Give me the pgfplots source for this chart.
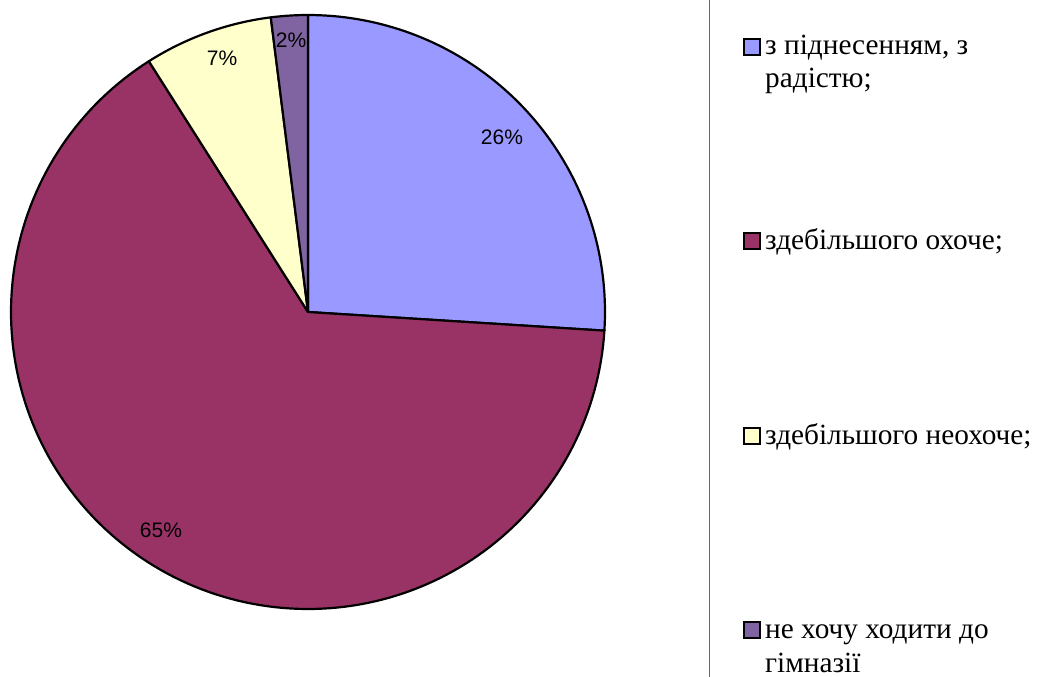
\documentclass[border=0pt]{standalone}
\usepackage{pgfplots}
\pgfplotsset{compat=1.18}
\usepackage{fontspec}
\setmainfont{Liberation Serif}
\newfontfamily\arialf{Liberation Sans}
\definecolor{cA}{HTML}{9999FF}
\definecolor{cB}{HTML}{993366}
\definecolor{cC}{HTML}{FFFFCC}
\definecolor{cD}{HTML}{8064A2}
% pie values (percent)
\def\vA{26}\def\vB{65}\def\vC{7}\def\vD{2}
\pgfmathsetmacro\aA{3.6*\vA}
\pgfmathsetmacro\aB{\aA+3.6*\vB}
\pgfmathsetmacro\aC{\aB+3.6*\vC}
\pgfmathsetmacro\aD{\aC+3.6*\vD}
\begin{document}
\begin{tikzpicture}
\begin{axis}[
  at={(0,0)}, anchor=south west,
  scale only axis, width=1041pt, height=677pt,
  xmin=0, xmax=1041, ymin=0, ymax=677, y dir=reverse,
  hide axis, clip=false,
]
\addplot[fill=cA, draw=black, line width=2.2pt, line join=round, domain=0:\aA, samples=80, variable=\t]
  ({308+297*sin(\t)},{312-297*cos(\t)}) -- (axis cs:308,312) -- cycle;
\addplot[fill=cB, draw=black, line width=2.2pt, line join=round, domain=\aA:\aB, samples=160, variable=\t]
  ({308+297*sin(\t)},{312-297*cos(\t)}) -- (axis cs:308,312) -- cycle;
\addplot[fill=cC, draw=black, line width=2.2pt, line join=round, domain=\aB:\aC, samples=30, variable=\t]
  ({308+297*sin(\t)},{312-297*cos(\t)}) -- (axis cs:308,312) -- cycle;
\addplot[fill=cD, draw=black, line width=2.2pt, line join=round, domain=\aC:\aD, samples=20, variable=\t]
  ({308+297*sin(\t)},{312-297*cos(\t)}) -- (axis cs:308,312) -- cycle;
% percent labels
\node[font=\arialf\fontsize{21}{25}\selectfont] at (axis cs:502,137) {26\%};
\node[font=\arialf\fontsize{21}{25}\selectfont] at (axis cs:161,530) {65\%};
\node[font=\arialf\fontsize{21}{25}\selectfont] at (axis cs:222,58) {7\%};
\node[font=\arialf\fontsize{21}{25}\selectfont] at (axis cs:291,40) {2\%};
% legend frame edge
\draw[black!60, line width=1.4pt] (axis cs:709.5,0) -- (axis cs:709.5,677);
% legend entries
\draw[black, line width=2.2pt, fill=cA] (axis cs:744,39) rectangle (axis cs:760,55);
\draw[black, line width=2.2pt, fill=cB] (axis cs:744,233) rectangle (axis cs:760,249);
\draw[black, line width=2.2pt, fill=cC] (axis cs:744,428) rectangle (axis cs:760,444);
\draw[black, line width=2.2pt, fill=cD] (axis cs:744,622) rectangle (axis cs:760,638);
\tikzset{lg/.style={anchor=base west, inner sep=0pt, font=\fontsize{29.3}{33}\selectfont}}
\node[lg] at (axis cs:765,55) {з піднесенням, з};
\node[lg] at (axis cs:765,88) {радістю;};
\node[lg] at (axis cs:765,249) {здебільшого охоче;};
\node[lg] at (axis cs:765,444) {здебільшого неохоче;};
\node[lg] at (axis cs:765,638) {не хочу ходити до};
\node[lg] at (axis cs:765,672) {гімназії};
\end{axis}
\pgfresetboundingbox
\path (0,0) rectangle (1041pt,677pt);
\end{tikzpicture}
\end{document}
